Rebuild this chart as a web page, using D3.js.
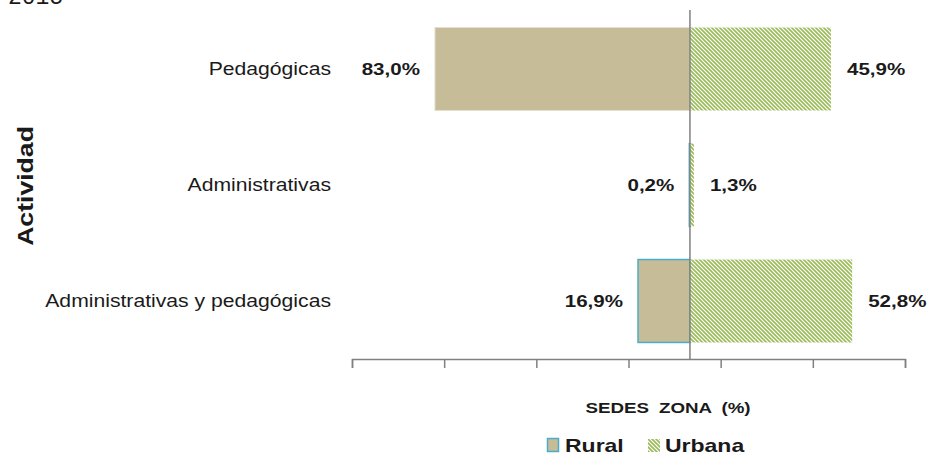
<!DOCTYPE html>
<html>
<head>
<meta charset="utf-8">
<script src="https://cdn.jsdelivr.net/npm/d3@7"></script>
<style>
  body { margin: 0; background: #fff; }
  text { font-family: "Liberation Sans", Arial, sans-serif; fill: #1a1a1a; }
</style>
</head>
<body>
<svg id="chart" width="927" height="458"></svg>
<script>
// data
const categories = ["Pedagógicas", "Administrativas", "Administrativas y pedagógicas"];
const rural = [83.0, 0.2, 16.9];
const urbana = [45.9, 1.3, 52.8];
const ruralBorder = [false, true, true];
const xTicks = [-110, -80, -50, -20, 10, 40, 70];

const svg = d3.select("#chart");
const STRETCH = 1.21; // the source text is rendered wide

// text drawn stretched along its reading direction
function label(parent, tx, ty, str, size, opts = {}) {
  const t = parent.append("g")
    .attr("transform", `translate(${tx},${ty}) rotate(${opts.rotate || 0}) scale(${opts.sx || STRETCH},1)`)
    .append("text")
    .attr("text-anchor", opts.anchor || "start")
    .attr("dy", opts.dy || 0)
    .style("font-size", size + "px")
    .style("font-weight", opts.bold ? "bold" : "normal")
    .text(str);
  if (opts.wordSpacing) t.style("word-spacing", opts.wordSpacing + "px");
  return t;
}

// hatch for urbana
const defs = svg.append("defs");
const pat = defs.append("pattern")
  .attr("id", "hatch")
  .attr("patternUnits", "userSpaceOnUse")
  .attr("width", 4).attr("height", 4);
pat.append("rect").attr("width", 4).attr("height", 4).attr("fill", "#fff");
pat.append("path")
  .attr("d", "M-1,-1 L5,5 M-1,3 L1,5 M3,-1 L5,1")
  .attr("stroke", "#9bbb59")
  .attr("stroke-width", 1.6);

const x = d3.scaleLinear().domain([-110, 70]).range([352, 905]);
const y = d3.scaleBand().domain(categories).range([11, 359])
  .paddingInner(0.285).paddingOuter(0.1425);

// year title, clipped at top
svg.append("text")
  .attr("x", 8).attr("y", 4)
  .style("font-family", "'Liberation Mono', 'DejaVu Sans Mono', monospace")
  .style("font-size", "23px")
  .text("2015");

// bars
const g = svg.append("g");
g.selectAll("rect.rural")
  .data(categories)
  .enter().append("rect")
  .attr("class", "rural")
  .attr("x", (d, i) => x(-rural[i]))
  .attr("y", d => y(d))
  .attr("width", (d, i) => x(0) - x(-rural[i]))
  .attr("height", y.bandwidth())
  .attr("fill", "#c6bd98")
  .attr("stroke", (d, i) => ruralBorder[i] ? "#4bacc6" : "#e4dfcc")
  .attr("stroke-width", (d, i) => ruralBorder[i] ? 1.5 : 1);

g.selectAll("rect.urb")
  .data(categories)
  .enter().append("rect")
  .attr("class", "urb")
  .attr("x", x(0))
  .attr("y", d => y(d))
  .attr("width", (d, i) => x(urbana[i]) - x(0))
  .attr("height", y.bandwidth())
  .attr("fill", "url(#hatch)");

// zero line
svg.append("line")
  .attr("x1", x(0)).attr("x2", x(0))
  .attr("y1", 10).attr("y2", 359)
  .attr("stroke", "#808080").attr("stroke-width", 1.5);

// x axis (no labels)
const xAxis = svg.append("g")
  .attr("transform", "translate(0,359)")
  .call(d3.axisBottom(x).tickValues(xTicks).tickSize(9).tickFormat(""));
xAxis.select(".domain").attr("stroke", "#808080").attr("stroke-width", 1.5);
xAxis.selectAll(".tick line").attr("stroke", "#808080").attr("stroke-width", 1.5);

const fmt = v => v.toFixed(1).replace(".", ",") + "%";

categories.forEach((c, i) => {
  const cy = y(c) + y.bandwidth() / 2;
  label(svg, 331, cy, c, 17.5, { anchor: "end", dy: "0.35em" });
  label(svg, x(-rural[i]) - 15, cy, fmt(rural[i]), 17, { anchor: "end", dy: "0.35em", bold: true });
  label(svg, x(urbana[i]) + 16, cy, fmt(urbana[i]), 17, { dy: "0.35em", bold: true });
});

// axis titles
label(svg, 33, 186, "Actividad", 22, { rotate: -90, anchor: "middle", bold: true });
label(svg, 668, 413, "SEDES ZONA (%)", 15.5, { anchor: "middle", bold: true, wordSpacing: 4 });

// legend
const leg = svg.append("g").attr("transform", "translate(547,438)");
leg.append("rect").attr("x", 0.5).attr("y", 0.5).attr("width", 11).attr("height", 13)
  .attr("fill", "#c6bd98").attr("stroke", "#4bacc6").attr("stroke-width", 1.5);
label(leg, 18, 14, "Rural", 19, { bold: true });
leg.append("rect").attr("x", 101).attr("y", 1).attr("width", 12).attr("height", 13)
  .attr("fill", "url(#hatch)");
label(leg, 118, 14, "Urbana", 19, { bold: true });
</script>
</body>
</html>
